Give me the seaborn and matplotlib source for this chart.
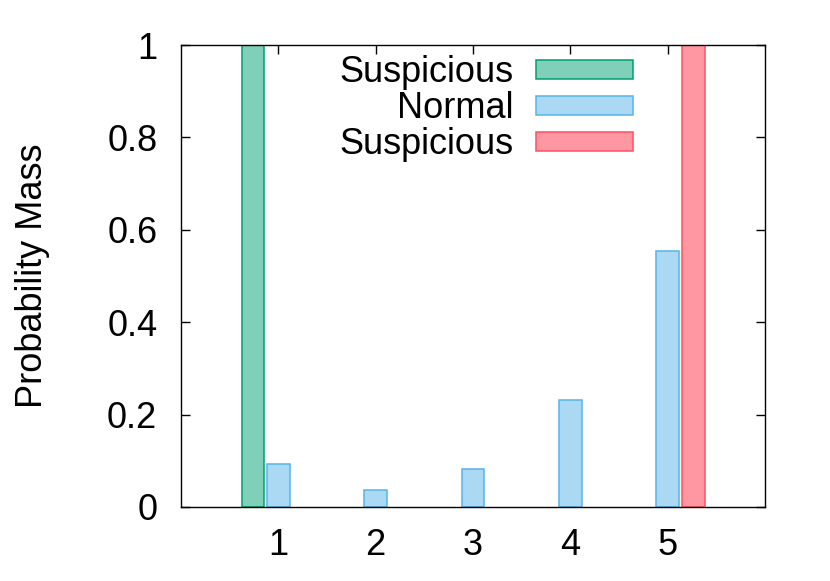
import pandas as pd
import matplotlib
matplotlib.use('Agg')
import matplotlib.pyplot as plt
import seaborn as sns

# chart data
bins = ['1', '2', '3', '4', '5']
low_bins = ['1']
low_mass = [1.0]
normal_mass = [0.093, 0.037, 0.083, 0.232, 0.555]
high_bins = ['5']
high_mass = [1.0]
groups = ['Suspicious (low)', 'Normal', 'Suspicious (high)']
legend_labels = ['Suspicious', 'Normal', 'Suspicious']
y_ticks = [0, 0.2, 0.4, 0.6, 0.8, 1.0]

# long table for seaborn
df = pd.concat([
    pd.DataFrame({'bin': low_bins, 'mass': low_mass, 'group': groups[0]}),
    pd.DataFrame({'bin': bins, 'mass': normal_mass, 'group': groups[1]}),
    pd.DataFrame({'bin': high_bins, 'mass': high_mass, 'group': groups[2]}),
], ignore_index=True)

fills = ['#80cfb9', '#abd9f4', '#ff97a3']
edges = ['#009e73', '#56b4e9', '#ff5064']
fs = 26

sns.set_style('ticks')
plt.rcParams['font.family'] = ['Liberation Sans', 'DejaVu Sans']
plt.rcParams['text.color'] = 'black'
plt.rcParams['axes.labelcolor'] = 'black'

fig, ax = plt.subplots(figsize=(8.3, 5.81), dpi=100)
fig.subplots_adjust(left=0.218, right=0.922, top=0.9225, bottom=0.1274)

sns.barplot(data=df, x='bin', y='mass', hue='group', order=bins, hue_order=groups,
            palette=fills, width=0.78, gap=0.1, errorbar=None, linewidth=1.1,
            saturation=1, ax=ax)

# gnuplot-like borders on each series
for cont, ec in zip(ax.containers, edges):
    for p in cont.patches:
        p.set_edgecolor(ec)

ax.set_xlim(-1, 5)
ax.set_ylim(0, 1)
ax.set_yticks(y_ticks)
ax.set_yticklabels(['{:g}'.format(t) for t in y_ticks])
ax.set_xlabel('')
ax.set_ylabel('Probability Mass', fontsize=fs, labelpad=41, color='black')

for side in ['top', 'right', 'left', 'bottom']:
    ax.spines[side].set_visible(True)
    ax.spines[side].set_color('black')
    ax.spines[side].set_linewidth(1.0)

ax.tick_params(axis='both', direction='in', top=True, right=True, length=6.5,
               width=1, labelsize=fs, colors='black')
ax.tick_params(axis='y', pad=17)
ax.tick_params(axis='x', pad=15)

leg = ax.legend(handles=list(ax.containers), labels=legend_labels, loc='upper right',
                bbox_to_anchor=(0.791, 1.0), borderaxespad=0, borderpad=0.28,
                frameon=False, markerfirst=False, fontsize=fs, handlelength=2.69,
                handleheight=0.45, handletextpad=0.62, labelspacing=0.03)
for t in leg.get_texts():
    t.set_color('black')

plt.savefig('out.png', dpi=100)
